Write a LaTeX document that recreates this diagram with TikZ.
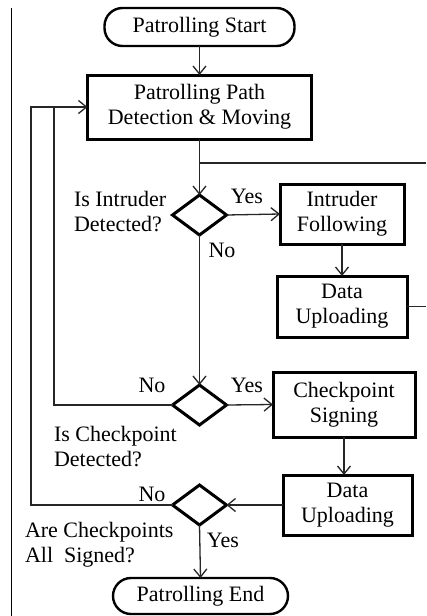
\documentclass[tikz,border=0pt]{standalone}
\usepackage{fontspec}
\setmainfont{Liberation Serif}
\usetikzlibrary{arrows.meta,shapes.geometric}
\begin{document}
\begin{tikzpicture}[x=1pt,y=-1pt,
  every node/.style={font=\fontsize{22}{25}\selectfont, inner sep=0pt, outer sep=0pt},
  conn/.style={line width=1.3pt, draw=black!85},
  arr/.style={conn, -{Straight Barb[length=8pt,width=13pt]}},
  term/.style={draw, line width=2.4pt, rounded corners=18pt, align=center},
  proc/.style={draw, line width=3pt, align=center},
  dec/.style={diamond, draw, line width=3pt, minimum width=54pt, minimum height=40pt},
  lbl/.style={align=left}]
\useasboundingbox (0,0) rectangle (426,616);
\draw[line width=1pt] (11,8) -- (11,616);

\node[term, minimum width=190pt, minimum height=38pt] (start) at (199.5,27) {Patrolling Start};
\node[proc, minimum width=224pt, minimum height=64pt] (proc) at (199.5,107) {Patrolling Path\\Detection \& Moving};
\node[dec] (d1) at (199.5,215) {};
\node[proc, minimum width=124pt, minimum height=60pt] (if) at (342,214) {Intruder\\Following};
\node[proc, minimum width=130pt, minimum height=61pt] (du1) at (342,306.5) {Data\\Uploading};
\node[dec] (d2) at (199.5,405) {};
\node[proc, minimum width=142pt, minimum height=65pt] (cs) at (344,404.5) {Checkpoint\\Signing};
\node[proc, minimum width=129pt, minimum height=60pt] (du2) at (347.5,505) {Data\\Uploading};
\node[dec] (d3) at (199.5,505) {};
\node[term, minimum width=175pt, minimum height=36pt] (end) at (200.5,596) {Patrolling End};

\node[lbl, anchor=west] (l1txt) at (74,212) {Is Intruder\\Detected?};
\node[anchor=base] (y1) at (247,203) {Yes};
\node[anchor=base] (n1) at (222,257) {No};
\node[anchor=base] (n2) at (152,392) {No};
\node[anchor=base] (y2) at (247,392) {Yes};
\node[lbl, anchor=west] (l2txt) at (54,447) {Is Checkpoint\\Detected?};
\node[anchor=base] (n3) at (152,501) {No};
\node[anchor=base] (y3) at (223,547) {Yes};
\node[lbl, anchor=west] (l3txt) at (25,545) {Are Checkpoints\\All~ Signed?};

\coordinate (j1) at (199.5,163);
\coordinate (r1) at (426,163);
\coordinate (r2) at (426,306.5);
\coordinate (lp1) at (54,107);
\coordinate (lp2) at (31,107);

\draw[arr] (start) -- (proc);
\draw[conn] (proc.south) -- (j1);
\draw[arr] (j1) -- (d1.north);
\draw[conn] (j1) -- (r1);
\draw[arr] (d1.east) -- (if.west);
\draw[arr] (if.south) -- (du1.north);
\draw[conn] (du1.east) -- (r2);
\draw[arr] (d1.south) -- (d2.north);
\draw[arr] (d2.east) -- (cs.west);
\draw[arr] (cs.south) -- (cs.south |- du2.north);
\draw[arr] (du2.west) -- (d3.east);
\draw[arr] (d3.south) -- (end.north);
\draw[conn] (d2.west) -| (lp1);
\draw[conn] (d3.west) -| (lp2) -- (lp1);
\draw[arr] (lp1) -- (proc.west);
\end{tikzpicture}
\end{document}
